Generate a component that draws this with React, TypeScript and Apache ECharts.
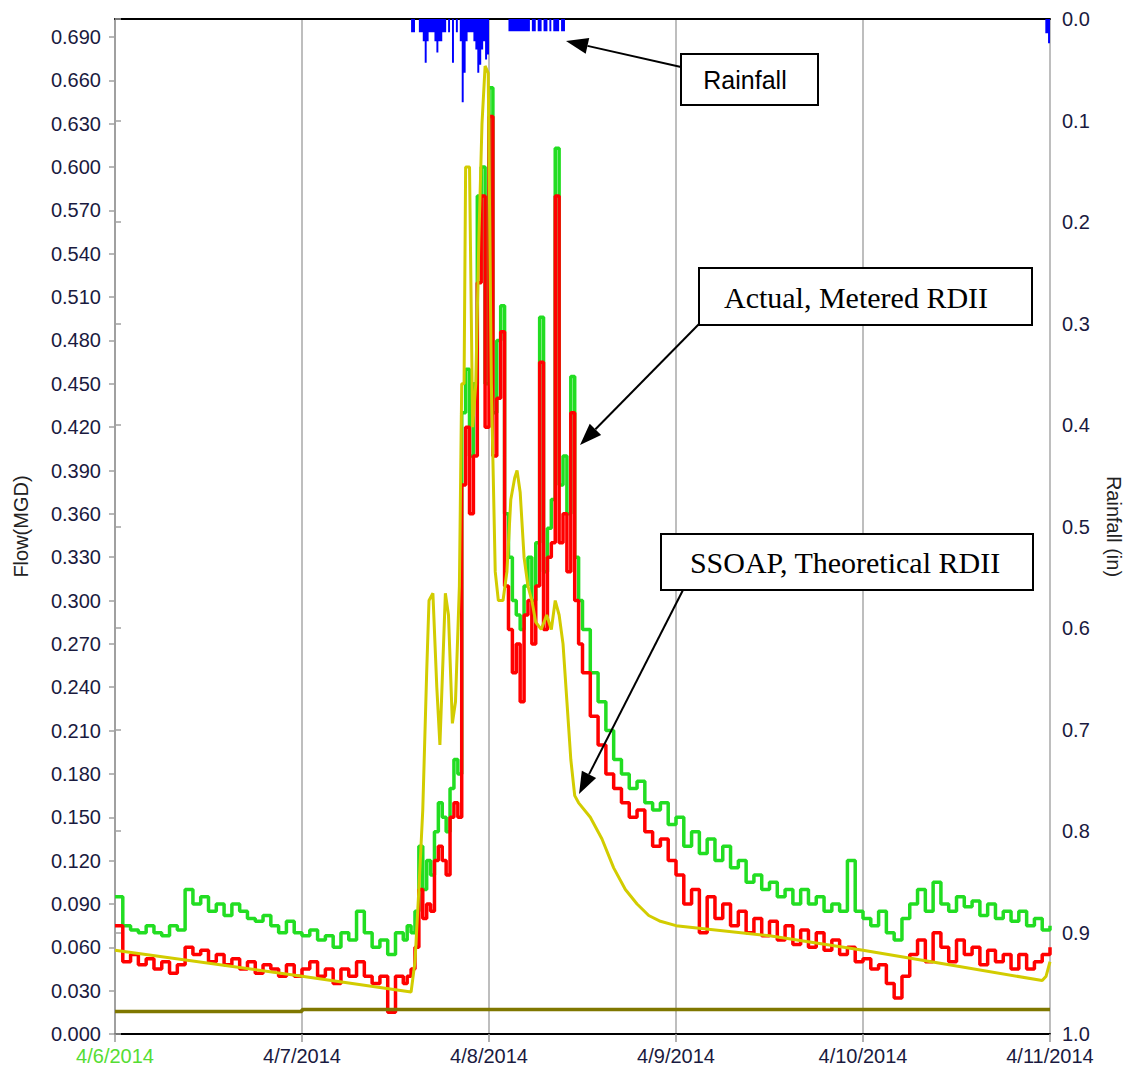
import React, { useEffect, useRef } from "react";
import * as echarts from "echarts";

// X axis: hours after 4/6/2014 00:00
const dayLabels = ["4/6/2014", "4/7/2014", "4/8/2014", "4/9/2014", "4/10/2014", "4/11/2014"];

// sampling times of the metered flow (hourly, half-hourly through the storm)
const flowHours: number[] = [];
for (let h = 0; h <= 36; h += 1) flowHours.push(h);
for (let h = 37; h <= 59.5; h += 0.5) flowHours.push(h);
for (let h = 60; h <= 120; h += 1) flowHours.push(h);

// green: metered total flow (MGD)
const totalFlow = [
  0.095, 0.075, 0.072, 0.07, 0.075, 0.07, 0.068, 0.075, 0.072, 0.10,
  0.09, 0.095, 0.085, 0.09, 0.082, 0.09, 0.085, 0.08, 0.078, 0.082,
  0.075, 0.07, 0.078, 0.07, 0.068, 0.072, 0.065, 0.068, 0.06, 0.07,
  0.065, 0.085, 0.07, 0.06, 0.065, 0.055, 0.07,
  0.065, 0.075, 0.07, 0.085, 0.13, 0.10, 0.12, 0.11, 0.14, 0.16,
  0.15, 0.14, 0.17, 0.19, 0.18, 0.43, 0.46, 0.40, 0.45, 0.58,
  0.60, 0.45, 0.655, 0.43, 0.48, 0.504, 0.36, 0.33, 0.30, 0.29,
  0.28, 0.31, 0.33, 0.30, 0.34, 0.496, 0.32, 0.35, 0.37, 0.613,
  0.38, 0.40, 0.36, 0.455, 0.33, 0.30,
  0.28, 0.25, 0.23, 0.21, 0.19, 0.18, 0.17, 0.175, 0.16, 0.155,
  0.16, 0.145, 0.15, 0.13, 0.14, 0.125, 0.135, 0.12, 0.13, 0.115,
  0.12, 0.105, 0.11, 0.10, 0.105, 0.095, 0.10, 0.09, 0.10, 0.09,
  0.095, 0.085, 0.09, 0.085, 0.12, 0.085, 0.08, 0.075, 0.085, 0.07,
  0.065, 0.08, 0.09, 0.10, 0.085, 0.105, 0.09, 0.085, 0.095, 0.088,
  0.092, 0.082, 0.09, 0.08, 0.085, 0.078, 0.085, 0.075, 0.08, 0.072,
  0.075,
];

// red: actual, metered RDII (MGD)
const meteredRdii = [
  0.075, 0.05, 0.055, 0.048, 0.052, 0.045, 0.05, 0.042, 0.048, 0.06,
  0.055, 0.058, 0.05, 0.055, 0.048, 0.052, 0.045, 0.05, 0.042, 0.048,
  0.045, 0.04, 0.048, 0.04, 0.045, 0.05, 0.04, 0.045, 0.035, 0.045,
  0.04, 0.05, 0.04, 0.035, 0.04, 0.015, 0.04,
  0.035, 0.04, 0.045, 0.06, 0.10, 0.08, 0.09, 0.085, 0.12, 0.13,
  0.12, 0.11, 0.15, 0.16, 0.15, 0.38, 0.42, 0.36, 0.40, 0.52,
  0.58, 0.42, 0.635, 0.40, 0.44, 0.486, 0.31, 0.28, 0.25, 0.27,
  0.23, 0.29, 0.30, 0.27, 0.31, 0.465, 0.28, 0.33, 0.34, 0.58,
  0.34, 0.36, 0.32, 0.43, 0.30, 0.27,
  0.25, 0.22, 0.20, 0.18, 0.17, 0.16, 0.15, 0.155, 0.14, 0.13,
  0.135, 0.12, 0.11, 0.09, 0.10, 0.07, 0.095, 0.08, 0.09, 0.075,
  0.085, 0.07, 0.08, 0.068, 0.078, 0.065, 0.075, 0.062, 0.072, 0.06,
  0.07, 0.058, 0.065, 0.055, 0.06, 0.05, 0.052, 0.045, 0.048, 0.035,
  0.025, 0.04, 0.055, 0.065, 0.05, 0.07, 0.06, 0.05, 0.065, 0.055,
  0.06, 0.048, 0.058, 0.05, 0.055, 0.045, 0.055, 0.045, 0.05, 0.055,
  0.06,
];

// yellow: SSOAP theoretical RDII
const ssoapHours = [
  0, 24, 38, 38.5, 39, 39.5, 40, 40.3, 40.8, 41.3, 41.7, 42.1, 42.4, 42.8, 43.3, 43.7,
  44.2, 44.5, 44.8, 45.0, 45.5, 45.9, 46.3, 46.7, 47.1, 47.5, 47.9, 48.3, 48.8, 49.2,
  49.8, 50.3, 50.8, 51.3, 51.6, 52.0, 52.5, 53.0, 53.5, 54.0, 54.7, 55.4, 56.0, 56.5,
  57.0, 57.5, 58.0, 58.5, 59.0, 59.5, 61, 62.5, 64, 65.5, 67, 68.5, 70, 72, 84, 96, 108, 119, 119.5, 120,
];
const ssoapFlow = [
  0.058, 0.040, 0.029, 0.05, 0.10, 0.155, 0.25, 0.30, 0.305, 0.24, 0.20, 0.26, 0.305, 0.29, 0.215, 0.23,
  0.31, 0.45, 0.45, 0.60, 0.60, 0.42, 0.45, 0.55, 0.63, 0.67, 0.665, 0.45, 0.32, 0.30,
  0.30, 0.32, 0.37, 0.385, 0.39, 0.375, 0.33, 0.31, 0.30, 0.285, 0.28, 0.29, 0.28, 0.30,
  0.29, 0.27, 0.23, 0.19, 0.165, 0.16, 0.15, 0.135, 0.115, 0.10, 0.09, 0.082, 0.078, 0.075, 0.068, 0.058, 0.047, 0.037, 0.04, 0.05,
];

// olive: base flow
const baseHours = [0, 24, 24, 120];
const baseFlow = [0.0155, 0.0155, 0.017, 0.017];

// blue: rainfall (in), 15-minute totals
const rainHours = [
  38, 38.25, 38.5, 38.75, 39, 39.25, 39.5, 39.75, 40, 40.25, 40.5, 40.75, 41, 41.25, 41.5, 41.75,
  42, 42.25, 42.5, 42.75, 43, 43.25, 43.5, 43.75, 44, 44.25, 44.5, 44.75, 45, 45.25, 45.5, 45.75,
  46, 46.25, 46.5, 46.75, 47, 47.25, 47.5, 47.75, 48,
  50.5, 50.75, 51, 51.25, 51.5, 51.75, 52, 52.25, 52.5, 52.75, 53, 53.25, 53.5, 53.75, 54, 54.25,
  54.5, 54.75, 55, 55.25, 55.5, 55.75, 56, 56.25, 56.5, 56.75, 57, 57.25, 57.5, 57.75,
  119.4, 119.75, 120,
];
const rainInches = [
  0.013, 0.013, 0, 0, 0.013, 0.013, 0.022, 0.043, 0.022, 0.013, 0.013, 0.013, 0.022, 0.033, 0.022, 0.022,
  0.013, 0.013, 0, 0.013, 0, 0.043, 0, 0.013, 0, 0.022, 0.082, 0.053, 0.022, 0.013, 0.013, 0.013,
  0.022, 0.03, 0.053, 0.045, 0.03, 0.022, 0.04, 0.035, 0,
  0.012, 0.012, 0.012, 0.012, 0.012, 0.012, 0.012, 0.012, 0.012, 0.012, 0.012, 0, 0.012, 0.012, 0, 0.012,
  0.012, 0, 0.012, 0.012, 0, 0.012, 0, 0.012, 0.012, 0.012, 0, 0.012, 0.012, 0,
  0.014, 0.024, 0.024,
];

const pairs = (xs: number[], ys: number[]) => xs.map((x, i) => [x, ys[i]]);

const SANS = "'Liberation Sans', Arial, sans-serif";
const SERIF = "'Liberation Serif', 'Times New Roman', serif";
const LABEL = "#1a1a40";

function arrow(fx: number, fy: number, tx: number, ty: number) {
  const dx = tx - fx;
  const dy = ty - fy;
  const len = Math.sqrt(dx * dx + dy * dy);
  const ux = dx / len;
  const uy = dy / len;
  const L = 22;
  const W = 8;
  const bx = tx - ux * L;
  const by = ty - uy * L;
  return [
    { type: "line", z: 100, shape: { x1: fx, y1: fy, x2: bx, y2: by }, style: { stroke: "#000", lineWidth: 2 } },
    {
      type: "polygon",
      z: 100,
      shape: { points: [[tx, ty], [bx - uy * W, by + ux * W], [bx + uy * W, by - ux * W]] },
      style: { fill: "#000" },
    },
  ];
}

function box(x: number, y: number, w: number, h: number, text: string, cx: number, cy: number, font: string, size: number) {
  return [
    { type: "rect", z: 100, shape: { x, y, width: w, height: h }, style: { fill: "#fff", stroke: "#000", lineWidth: 2 } },
    {
      type: "text",
      z: 101,
      x: cx,
      y: cy,
      style: { text, fill: "#000", font: `${size}px ${font}`, align: "center", verticalAlign: "middle" },
    },
  ];
}

export default function App() {
  const ref = useRef<HTMLDivElement>(null);
  useEffect(() => {
    if (!ref.current) return;
    const chart = echarts.init(ref.current, undefined, { renderer: "svg" });
    const option: any = {
      animation: false,
      backgroundColor: "#fff",
      grid: { left: 115, right: 75, top: 19, bottom: 34, containLabel: false, outerBoundsMode: "none" },
      xAxis: [
        {
          type: "value",
          min: 0,
          max: 120,
          interval: 24,
          position: "bottom",
          axisLine: { show: true, onZero: false, lineStyle: { color: "#000", width: 2 } },
          axisTick: { show: true, length: 8, lineStyle: { color: "#999", width: 1.5 } },
          axisLabel: {
            fontSize: 20,
            fontFamily: SANS,
            color: LABEL,
            margin: 12,
            showMinLabel: true,
            showMaxLabel: true,
            formatter: (v: number) => {
              const i = Math.round(v / 24);
              return i === 0 ? `{g|${dayLabels[0]}}` : dayLabels[i];
            },
            rich: { g: { color: "#55dd33", fontSize: 20, fontFamily: SANS } },
          },
          splitLine: { show: true, lineStyle: { color: "#a8a8a8", width: 1.5 } },
        },
        {
          type: "value",
          min: 0,
          max: 120,
          position: "top",
          axisLine: { show: true, onZero: false, lineStyle: { color: "#000", width: 2 } },
          axisTick: { show: false },
          axisLabel: { show: false },
          splitLine: { show: false },
        },
      ],
      yAxis: [
        {
          type: "value",
          min: 0,
          max: 0.7025,
          interval: 0.03,
          position: "left",
          name: "Flow(MGD)",
          nameLocation: "middle",
          nameRotate: 90,
          nameGap: 84,
          nameTextStyle: { fontSize: 20, fontFamily: SANS, color: "#222" },
          axisLine: { show: true, lineStyle: { color: "#a0a0a0", width: 2 } },
          axisTick: { show: true, length: 6, lineStyle: { color: "#a0a0a0", width: 1.5 } },
          axisLabel: {
            fontSize: 20,
            fontFamily: SANS,
            color: LABEL,
            margin: 14,
            showMaxLabel: false,
            formatter: (v: number) => (v > 0.695 ? "" : v.toFixed(3)),
          },
          splitLine: { show: false },
        },
        {
          type: "value",
          min: 0,
          max: 1,
          interval: 0.1,
          inverse: true,
          position: "right",
          name: "Rainfall (in)",
          nameLocation: "middle",
          nameRotate: -90,
          nameGap: 54,
          nameTextStyle: { fontSize: 20, fontFamily: SANS, color: "#222" },
          axisLine: { show: true, lineStyle: { color: "#a0a0a0", width: 2 } },
          axisTick: { show: true, length: 6, lineStyle: { color: "#a0a0a0", width: 1.5 } },
          axisLabel: {
            fontSize: 20,
            fontFamily: SANS,
            color: LABEL,
            margin: 12,
            formatter: (v: number) => v.toFixed(1),
          },
          splitLine: { show: false },
        },
      ],
      series: [
        {
          name: "Rainfall",
          type: "line",
          yAxisIndex: 1,
          step: "end",
          showSymbol: false,
          symbol: "none",
          silent: true,
          lineStyle: { width: 0, color: "#0000ff" },
          areaStyle: { color: "#0000ff", opacity: 1 },
          data: pairs(rainHours, rainInches),
          z: 2,
        },
        {
          name: "Total flow",
          type: "line",
          step: "end",
          symbol: "none",
          silent: true,
          lineStyle: { width: 3.5, color: "#22dd22" },
          data: pairs(flowHours, totalFlow),
          z: 3,
        },
        {
          name: "Actual, Metered RDII",
          type: "line",
          step: "end",
          symbol: "none",
          silent: true,
          lineStyle: { width: 3.5, color: "#ff0000" },
          data: pairs(flowHours, meteredRdii),
          z: 4,
        },
        {
          name: "SSOAP, Theoretical RDII",
          type: "line",
          symbol: "none",
          silent: true,
          lineStyle: { width: 3, color: "#d2cc00" },
          data: pairs(ssoapHours, ssoapFlow),
          z: 5,
        },
        {
          name: "Base flow",
          type: "line",
          symbol: "none",
          silent: true,
          lineStyle: { width: 3.5, color: "#7f7700" },
          data: pairs(baseHours, baseFlow),
          z: 6,
        },
      ],
      graphic: [
        ...arrow(681, 67, 566, 41),
        ...box(681, 54, 137, 51, "Rainfall", 745, 80, SANS, 25),
        ...arrow(699, 324, 580, 445),
        ...box(699, 268, 333, 57, "Actual, Metered RDII", 856, 297, SERIF, 30),
        ...arrow(683, 590, 579, 794),
        ...box(661, 534, 372, 56, "SSOAP, Theoretical RDII", 845, 562, SERIF, 30),
      ],
    };
    chart.setOption(option);
    return () => chart.dispose();
  }, []);
  return (
    <div
      ref={ref}
      style={{ position: "fixed", left: 0, top: 0, width: 1125, height: 1068, background: "#fff" }}
    />
  );
}
